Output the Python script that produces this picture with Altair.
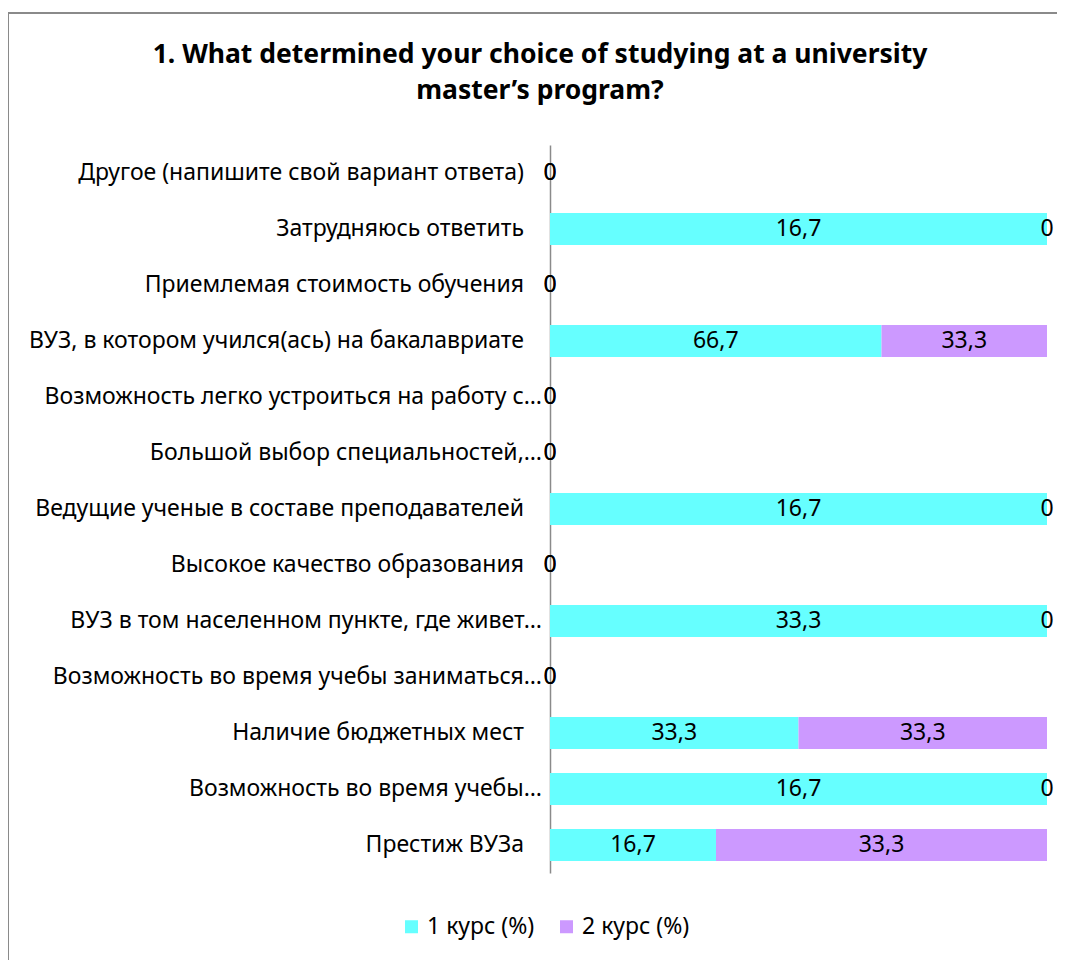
import altair as alt
import pandas as pd

title_lines = ["1. What determined your choice of studying at a university", "master’s program?"]
categories = [
    "Другое (напишите свой вариант ответа)",
    "Затрудняюсь ответить",
    "Приемлемая стоимость обучения",
    "ВУЗ, в котором учился(ась) на бакалавриате",
    "Возможность легко устроиться на работу с…",
    "Большой выбор специальностей,…",
    "Ведущие ученые в составе преподавателей",
    "Высокое качество образования",
    "ВУЗ в том населенном пункте, где живет…",
    "Возможность во время учебы заниматься…",
    "Наличие бюджетных мест",
    "Возможность во время учебы…",
    "Престиж ВУЗа",
]
course1 = [0, 16.7, 0, 66.7, 0, 0, 16.7, 0, 33.3, 0, 33.3, 16.7, 16.7]
course2 = [0, 0, 0, 33.3, 0, 0, 0, 0, 0, 0, 33.3, 0, 33.3]
series = ["1 курс (%)", "2 курс (%)"]
colors = ["#66FFFF", "#CC99FF"]

rows = []
for i, c in enumerate(categories):
    rows.append({"cat": c, "series": series[0], "order": 0, "value": course1[i]})
    rows.append({"cat": c, "series": series[1], "order": 1, "value": course2[i]})
df = pd.DataFrame(rows)
cat_df = pd.DataFrame({"cat": categories})

FONT = "Noto Sans"
FS = 23

base = (
    alt.Chart(df)
    .transform_joinaggregate(total="sum(value)", groupby=["cat"])
    .transform_calculate(share="datum.total > 0 ? datum.value / datum.total : 0")
    .transform_stack(stack="share", as_=["x0", "x1"], groupby=["cat"],
                     sort=[alt.SortField("order", order="ascending")])
    .transform_calculate(
        mid="(datum.x0 + datum.x1) / 2",
        lbl="datum.value == 0 ? '0' : replace(format(datum.value, '.1f'), '.', ',')",
    )
)

yscale = alt.Scale(paddingInner=0.43, paddingOuter=0.215)
yenc = alt.Y(
    "cat:N",
    sort=categories,
    scale=yscale,
    axis=alt.Axis(title=None, ticks=False, labels=False, grid=False,
                  domainColor="#8a8a8a", domainWidth=1.5),
)
xscale = alt.Scale(domain=[0, 1], nice=False, zero=True)

bars = base.mark_bar().encode(
    x=alt.X("x0:Q", scale=xscale, axis=None),
    x2="x1:Q",
    y=yenc,
    color=alt.Color(
        "series:N",
        scale=alt.Scale(domain=series, range=colors),
        legend=alt.Legend(
            orient="none", legendX=-150, legendY=770, direction="horizontal",
            title=None, symbolType="square", symbolSize=169, symbolStrokeWidth=0,
            labelFont=FONT, labelFontSize=FS, labelColor="#000000",
            labelOffset=4, columnPadding=20,
        ),
    ),
)

values = base.mark_text(font=FONT, fontSize=FS, color="#000000", baseline="middle").encode(
    x=alt.X("mid:Q", scale=xscale, axis=None),
    y=alt.Y("cat:N", sort=categories),
    text="lbl:N",
)

ylab_full = (
    alt.Chart(cat_df)
    .transform_filter("indexof(datum.cat, '…') < 0")
    .mark_text(font=FONT, fontSize=FS, color="#000000", align="right", baseline="middle")
    .encode(x=alt.value(-26), y=alt.Y("cat:N", sort=categories), text="cat:N")
)
ylab_trunc = (
    alt.Chart(cat_df)
    .transform_filter("indexof(datum.cat, '…') >= 0")
    .mark_text(font=FONT, fontSize=FS, color="#000000", align="right", baseline="middle")
    .encode(x=alt.value(-8), y=alt.Y("cat:N", sort=categories), text="cat:N")
)

one = pd.DataFrame({"a": [0]})
title = alt.Chart(one).mark_text(
    font=FONT, fontSize=26.5, fontWeight="bold", color="#000000",
    align="center", baseline="alphabetic", lineHeight=36,
).encode(x=alt.value(-10), y=alt.value(-82), text=alt.value(title_lines))

frame_left = alt.Chart(one).mark_rule(color="#8a8a8a", strokeWidth=2).encode(
    x=alt.value(-542), y=alt.value(-133), y2=alt.value(900)
)
frame_top = alt.Chart(one).mark_rule(color="#8a8a8a", strokeWidth=2).encode(
    x=alt.value(-543), x2=alt.value(700), y=alt.value(-132)
)

chart = (
    alt.layer(frame_left, frame_top, title, bars, values, ylab_full, ylab_trunc)
    .properties(
        width=497,
        height=728,
        autosize=alt.AutoSizeParams(type="none"),
        padding={"left": 542, "top": 137, "right": 10, "bottom": 100},
    )
    .configure(background="white")
    .configure_view(strokeOpacity=0, strokeWidth=0)
)

chart.save("out.html", embed_options={"renderer": "svg", "actions": False})
